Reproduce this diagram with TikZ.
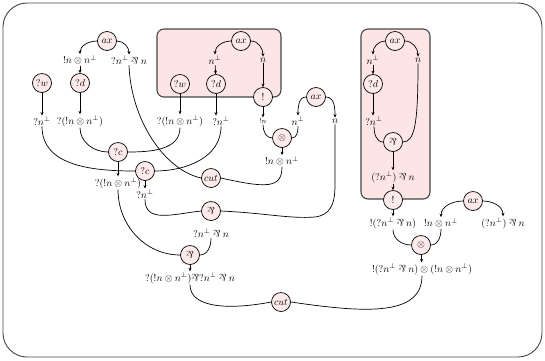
\documentclass[tikz,border=0pt]{standalone}
\usepackage{graphicx}
\usetikzlibrary{arrows.meta}
\definecolor{boxpink}{RGB}{253,229,229}
\definecolor{nodepink}{RGB}{253,234,234}
\definecolor{framegray}{RGB}{70,70,70}
% the multiplicative disjunction: an upside-down ampersand
\newcommand{\llpar}{\mathbin{\rotatebox[origin=c]{180}{$\&$}}}

\begin{document}
\begin{tikzpicture}[x=1pt,y=-1pt,
  rule/.style={circle,draw,fill=nodepink,minimum size=19pt,inner sep=0pt,line width=0.7pt},
  formula/.style={inner sep=1pt},
  wire/.style={line width=0.7pt},
  arr/.style={wire,-{Stealth[length=3.5pt,width=3pt]}},
  boxframe/.style={draw=framegray,fill=boxpink,rounded corners=7pt,line width=1.1pt},
]
\useasboundingbox (0,0) rectangle (545,360);
\draw[line width=0.9pt,rounded corners=24pt,draw=framegray] (3,3) rectangle (542,357);

% exponential boxes
\draw[boxframe] (157,29) rectangle (281,97);
\draw[boxframe] (361,29) rectangle (430,199);

% ---------- rule nodes ----------
\node[rule] (ax1) at (107,41) {$ax$};
\node[rule] (w1)  at (42,83)  {$?w$};
\node[rule] (d1)  at (80,83)  {$?d$};
\node[rule] (ax2) at (241,41) {$ax$};
\node[rule] (w2)  at (180,84) {$?w$};
\node[rule] (d2)  at (216,84) {$?d$};
\node[rule] (b1)  at (263,97) {$!$};
\node[rule] (ax3) at (316,97) {$ax$};
\node[rule] (t1)  at (282,138) {$\otimes$};
\node[rule] (c1)  at (118,152) {$?c$};
\node[rule] (c2)  at (145,171) {$?c$};
\node[rule] (cut1) at (211,178) {$cut$};
\node[rule] (p1)  at (211,211) {$\llpar$};
\node[rule] (p2)  at (190,255) {$\llpar$};
\node[rule] (cut2) at (281,302) {$cut$};
\node[rule] (ax4) at (395,41) {$ax$};
\node[rule] (d3)  at (373,84) {$?d$};
\node[rule] (p3)  at (393,142) {$\llpar$};
\node[rule] (b2)  at (393,200) {$!$};
\node[rule] (ax5) at (473,201) {$ax$};
\node[rule] (t2)  at (421,245) {$\otimes$};

% ---------- formulas ----------
\node[formula] (f1)  at (80,60)   {$!n\otimes n^{\perp}$};
\node[formula] (f2)  at (129,60)  {$?n^{\perp}\llpar n$};
\node[formula] (f3)  at (42,121)  {$?n^{\perp}$};
\node[formula] (f4)  at (80,121)  {$?(!n\otimes n^{\perp})$};
\node[formula] (f5)  at (180,121) {$?(!n\otimes n^{\perp})$};
\node[formula] (f6)  at (221,121) {$?n^{\perp}$};
\node[formula] (f7)  at (118,183) {$?(!n\otimes n^{\perp})$};
\node[formula] (f8)  at (145,194) {$?n^{\perp}$};
\node[formula] (f9)  at (282,161) {$!n\otimes n^{\perp}$};
\node[formula] (f10) at (215,60)  {$n^{\perp}$};
\node[formula] (f11) at (263,60)  {$n$};
\node[formula,font=\scriptsize] (f12) at (263,121) {$!n$};
\node[formula] (f13) at (298,121) {$n^{\perp}$};
\node[formula] (f14) at (335,121) {$n$};
\node[formula] (f15) at (211,233) {$?n^{\perp}\llpar n$};
\node[formula] (f16) at (190,278) {$?(!n\otimes n^{\perp})\llpar ?n^{\perp}\llpar n$};
\node[formula] (f17) at (422,269) {$!(?n^{\perp}\llpar n)\otimes(!n\otimes n^{\perp})$};
\node[formula] (f18) at (373,60)  {$n^{\perp}$};
\node[formula] (f19) at (418,60)  {$n$};
\node[formula] (f20) at (374,121) {$?n^{\perp}$};
\node[formula] (f21) at (393,177) {$(?n^{\perp})\llpar n$};
\node[formula] (f22) at (393,223) {$!(?n^{\perp}\llpar n)$};
\node[formula] (f23) at (441,223) {$!n\otimes n^{\perp}$};
\node[formula] (f24) at (503,223) {$(?n^{\perp})\llpar n$};

% ---------- axiom links ----------
\draw[arr] (ax1.west) to[out=180,in=90] (f1.north);
\draw[arr] (ax1.east) to[out=0,in=90] (f2.north);
\draw[arr] (ax2.west) to[out=180,in=90] (f10.north);
\draw[arr] (ax2.east) to[out=0,in=90] (f11.north);
\draw[arr] (ax3.west) to[out=180,in=90] (f13.north);
\draw[arr] (ax3.east) to[out=0,in=90] (f14.north);
\draw[arr] (ax4.west) to[out=180,in=90] (f18.north);
\draw[arr] (ax4.east) to[out=0,in=90] (f19.north);
\draw[arr] (ax5.west) to[out=180,in=90] (f23.north);
\draw[arr] (ax5.east) to[out=0,in=90] (f24.north);

% ---------- vertical steps ----------
\draw[arr] (f1) -- (d1);
\draw[arr] (w1) -- (f3);
\draw[arr] (d1) -- (f4);
\draw[arr] (f10) -- (d2);
\draw[arr] (f11) -- (b1);
\draw[arr] (w2) -- (f5);
\draw[arr] (d2.south) -- (d2.south |- f6.north);
\draw[arr] (b1) -- (f12);
\draw[arr] (t1) -- (f9);
\draw[arr] (c1) -- (f7);
\draw[arr] (c2) -- (f8);
\draw[arr] (p2) -- (f16);
\draw[arr] (f18) -- (d3);
\draw[arr] (d3.south) -- (d3.south |- f20.north);
\draw[arr] (p3) -- (f21);
\draw[arr] (f21) -- (b2);
\draw[arr] (b2) -- (f22);
\draw[arr] (t2) -- (f17);

% ---------- premises of binary rules ----------
\draw[wire] (f3.south) to[out=270,in=180] (c2.west);
\draw[wire] (f4.south) to[out=270,in=180] (c1.west);
\draw[wire] (f5.south) to[out=270,in=0] (c1.east);
\draw[wire] (f6.south) to[out=270,in=0] (c2.east);
\draw[wire] (f12.south) to[out=270,in=180] (t1.west);
\draw[wire] (f13.south) to[out=270,in=0] (t1.east);
\draw[wire] (f2.south) .. controls +(2,54) and +(-37,-8) .. (cut1.west);
\draw[wire] (cut1.east) .. controls +(45,10) and +(0,22) .. (f9.south);
\draw[wire] (f8.south) .. controls +(0,24) and +(-28,3) .. (p1.west);
\draw[wire] (p1.east) .. controls (265,213) and (290,219) .. (315,217)
  .. controls (330,215) and (335,205) .. (335,185) -- (f14.south);
\draw[wire] (f7.south) to[out=270,in=180] (p2.west);
\draw[wire] (f15.south) to[out=270,in=0] (p2.east);
\draw[wire] (f16.south) .. controls (190,310) and (235,309) .. (cut2.west);
\draw[wire] (cut2.east) .. controls (360,312) and (422,318) .. (f17.south);
\draw[wire] (f20.south) to[out=270,in=180] (p3.west);
\draw[wire] (f19.south) .. controls +(0,60) and +(12,0) .. (p3.east);
\draw[wire] (f22.south) to[out=270,in=180] (t2.west);
\draw[wire] (f23.south) to[out=270,in=0] (t2.east);
\end{tikzpicture}
\end{document}
